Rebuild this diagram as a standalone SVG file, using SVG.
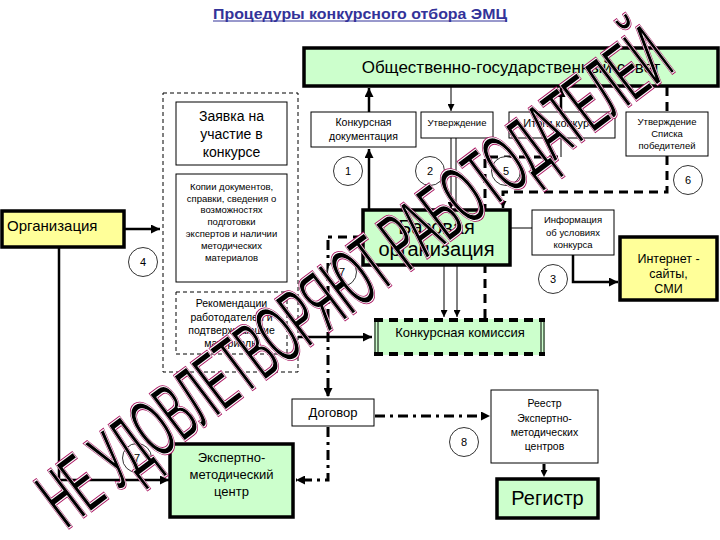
<svg xmlns="http://www.w3.org/2000/svg" width="720" height="540" viewBox="0 0 720 540">
<defs>
<style>
text{font-family:"Liberation Sans",Arial,sans-serif;fill:#000;text-anchor:middle}
.box{fill:#fff;stroke:#000;stroke-width:1}
.green{fill:#ccffcc;stroke:#000;stroke-width:3.5}
.yellow{fill:#ffff99;stroke:#000;stroke-width:3.5}
.circ{fill:#fff;stroke:#000;stroke-width:0.8}
.cn{font-size:11px}
.thick{fill:none;stroke:#000;stroke-width:2.5}
.thin{fill:none;stroke:#000;stroke-width:1}
.dash{fill:none;stroke:#000;stroke-width:3;stroke-dasharray:9 6}
.dashdot{fill:none;stroke:#000;stroke-width:3;stroke-dasharray:10 5 3 5}
.wm{font-family:"Liberation Sans",Arial,sans-serif;text-anchor:start}
</style>
<marker id="ah" viewBox="0 0 10 10" refX="10" refY="5" markerWidth="9" markerHeight="9" markerUnits="userSpaceOnUse" orient="auto"><path d="M0,0 L10,5 L0,10 z" fill="#000"/></marker>
<marker id="ahs" viewBox="0 0 10 10" refX="10" refY="5" markerWidth="7" markerHeight="7" markerUnits="userSpaceOnUse" orient="auto"><path d="M0,0 L10,5 L0,10 z" fill="#000"/></marker>
</defs>
<rect width="720" height="540" fill="#fff"/>

<g id="title">
<text x="360" y="19" style="font-size:14px;font-weight:bold;fill:#333399" textLength="294" lengthAdjust="spacingAndGlyphs">Процедуры конкурсного отбора ЭМЦ</text>
<line x1="213" y1="21" x2="507" y2="21" stroke="#333399" stroke-width="1"/>
</g>

<g id="connectors">
<path class="thick" d="M369,112 V88" marker-end="url(#ah)"/>
<path class="thick" d="M369,210 V149" marker-end="url(#ah)"/>
<path class="thin" d="M451,87 V111" marker-end="url(#ahs)"/>
<path class="thin" d="M451,138 V209" marker-end="url(#ahs)"/>
<path class="thin" d="M456,138 V210"/>
<path class="thin" d="M444,266 V317" stroke-width="2" marker-end="url(#ahs)"/>
<path class="thin" d="M457,266 V317" stroke-width="1.5" marker-end="url(#ahs)"/>
<path class="thick" d="M561,112 V88" marker-end="url(#ah)"/>
<path class="dash" d="M485,318 V157 H561"/>
<path class="thin" d="M561,157 V139"/>
<path class="dash" d="M667,87 V112"/>
<path class="dash" d="M667,156 V192 H503 V201"/>
<path class="thick" d="M503,200 V208" stroke-width="2" marker-end="url(#ahs)"/>
<path class="thin" d="M510,228 H532"/>
<path class="thick" d="M573,255 V282 H618" marker-end="url(#ah)"/>
<path class="thick" d="M124,229 H160" marker-end="url(#ah)"/>
<path class="thick" d="M59,247 V480 H169" stroke-width="3" marker-end="url(#ah)"/>
<path class="dash" d="M362,237 H328"/>
<path class="dashdot" d="M328,240 V397" marker-end="url(#ah)"/>
<path class="thick" d="M298,337 H372" marker-end="url(#ah)"/>
<path class="dashdot" d="M328,427 V480 H296" marker-end="url(#ah)"/>
<path class="dashdot" d="M375,416 H490" stroke-width="4.5" marker-end="url(#ah)"/>
<path class="dash" d="M544,464 V477" stroke-width="3.5" stroke-dasharray="6 3" marker-end="url(#ahs)"/>
</g>

<g id="council">
<rect class="green" x="304" y="48" width="414" height="38"/>
<text x="511" y="73" style="font-size:17px">Общественно-государственный совет</text>
</g>

<g id="outer-docs">
<rect x="163" y="93" width="135" height="279" fill="none" stroke="#000" stroke-width="1" stroke-dasharray="4 3"/>
</g>

<g id="zayavka">
<rect class="box" x="176" y="102" width="111" height="63"/>
<text style="font-size:14px"><tspan x="231.5" y="121">Заявка на</tspan><tspan x="231.5" y="139">участие в</tspan><tspan x="231.5" y="157">конкурсе</tspan></text>
</g>

<g id="kopii">
<rect class="box" x="176" y="174" width="111" height="108"/>
<text style="font-size:9.5px"><tspan x="231.5" y="190">Копии документов,</tspan><tspan x="231.5" y="202">справки, сведения о</tspan><tspan x="231.5" y="213">возможностях</tspan><tspan x="231.5" y="225">подготовки</tspan><tspan x="231.5" y="237">экспертов и наличии</tspan><tspan x="231.5" y="249">методических</tspan><tspan x="231.5" y="261">материалов</tspan></text>
</g>

<g id="rekomendacii">
<rect x="176" y="292" width="111" height="62" fill="#fff" stroke="#000" stroke-width="1" stroke-dasharray="4 3"/>
<text style="font-size:10.5px"><tspan x="231.5" y="307">Рекомендации</tspan><tspan x="231.5" y="321">работодателей и</tspan><tspan x="231.5" y="334">подтверждающие</tspan><tspan x="231.5" y="347">материалы</tspan></text>
</g>

<g id="organizaciya">
<rect class="yellow" x="2" y="211" width="122" height="36"/>
<text x="7" y="231" style="font-size:15px;text-anchor:start">Организация</text>
</g>

<g id="konk-doc">
<rect class="box" x="311" y="112" width="105" height="35"/>
<text style="font-size:10.5px"><tspan x="363.5" y="126">Конкурсная</tspan><tspan x="363.5" y="140">документация</tspan></text>
</g>

<g id="utverzhdenie">
<rect class="box" x="421" y="112" width="72" height="26"/>
<text x="457" y="126" style="font-size:9.5px">Утверждение</text>
</g>

<g id="itogi">
<rect class="box" x="509" y="112" width="106" height="26"/>
<text x="562" y="127" style="font-size:11px">Итоги конкурса</text>
</g>

<g id="utv-spiska">
<rect class="box" x="626" y="112" width="82" height="44"/>
<text style="font-size:9.5px"><tspan x="667" y="125">Утверждение</tspan><tspan x="667" y="137">Списка</tspan><tspan x="667" y="149">победителей</tspan></text>
</g>

<g id="bazovaya">
<rect class="green" x="363" y="210" width="147" height="55" stroke-width="4"/>
<text style="font-size:20px"><tspan x="436.5" y="234">Базовая</tspan><tspan x="436.5" y="256">организация</tspan></text>
</g>

<g id="informaciya">
<rect class="box" x="532" y="210" width="82" height="45"/>
<text style="font-size:9.5px"><tspan x="573" y="223">Информация</tspan><tspan x="573" y="236">об условиях</tspan><tspan x="573" y="248">конкурса</tspan></text>
</g>

<g id="internet">
<rect class="yellow" x="620" y="237" width="97" height="63"/>
<text style="font-size:12.5px"><tspan x="668.5" y="263">Интернет -</tspan><tspan x="668.5" y="278">сайты,</tspan><tspan x="668.5" y="293">СМИ</tspan></text>
</g>

<g id="komissiya">
<rect x="374" y="319" width="171" height="36" fill="#ccffcc"/>
<path d="M374,320 H545 M374,354 H545" fill="none" stroke="#000" stroke-width="4" stroke-dasharray="9 6"/>
<path d="M375,319 V355 M378,319 V355 M541,319 V355 M544,319 V355" fill="none" stroke="#000" stroke-width="1"/>
<text x="460" y="337" style="font-size:13px">Конкурсная комиссия</text>
</g>

<g id="dogovor">
<rect class="box" x="292" y="399" width="82" height="27"/>
<text x="333" y="417" style="font-size:13px">Договор</text>
</g>

<g id="emc">
<rect class="green" x="170" y="444" width="123" height="73"/>
<text style="font-size:13px"><tspan x="231.5" y="462">Экспертно-</tspan><tspan x="231.5" y="479">методический</tspan><tspan x="231.5" y="496">центр</tspan></text>
</g>

<g id="reestr">
<rect class="box" x="491" y="390" width="107" height="73"/>
<text style="font-size:10.5px"><tspan x="544.5" y="407">Реестр</tspan><tspan x="544.5" y="422">Экспертно-</tspan><tspan x="544.5" y="436">методических</tspan><tspan x="544.5" y="450">центров</tspan></text>
</g>

<g id="registr">
<rect class="green" x="497" y="479" width="101" height="39" stroke-width="4"/>
<text x="547.5" y="505" style="font-size:20px">Регистр</text>
</g>

<g id="circles">
<circle class="circ" cx="348" cy="171" r="14.5"/><text class="cn" x="348" y="175">1</text>
<circle class="circ" cx="430" cy="171" r="14.5"/><text class="cn" x="430" y="175">2</text>
<circle class="circ" cx="506" cy="171" r="14.5"/><text class="cn" x="506" y="175">5</text>
<circle class="circ" cx="688" cy="180" r="14.5"/><text class="cn" x="688" y="184">6</text>
<circle class="circ" cx="553" cy="279" r="14.5"/><text class="cn" x="553" y="283">3</text>
<circle class="circ" cx="143" cy="262" r="14.5"/><text class="cn" x="143" y="266">4</text>
<circle class="circ" cx="342" cy="272" r="14.5"/><text class="cn" x="342" y="276">7</text>
<circle class="circ" cx="137" cy="458" r="14.5"/><text class="cn" x="137" y="462">7</text>
<circle class="circ" cx="464" cy="442" r="14.5"/><text class="cn" x="464" y="446">8</text>
</g>

<g id="watermark">
<text class="wm" transform="translate(66,530) rotate(-37)" font-size="84" textLength="765" lengthAdjust="spacingAndGlyphs" fill="none" stroke="#a8105e" stroke-width="3">НЕ УДОВЛЕТВОРЯЮТ РАБОТОДАТЕЛЕЙ</text>
<text class="wm" transform="translate(66,530) rotate(-37)" font-size="84" textLength="765" lengthAdjust="spacingAndGlyphs" fill="none" stroke="#fff" stroke-width="1.1">НЕ УДОВЛЕТВОРЯЮТ РАБОТОДАТЕЛЕЙ</text>
</g>
</svg>
